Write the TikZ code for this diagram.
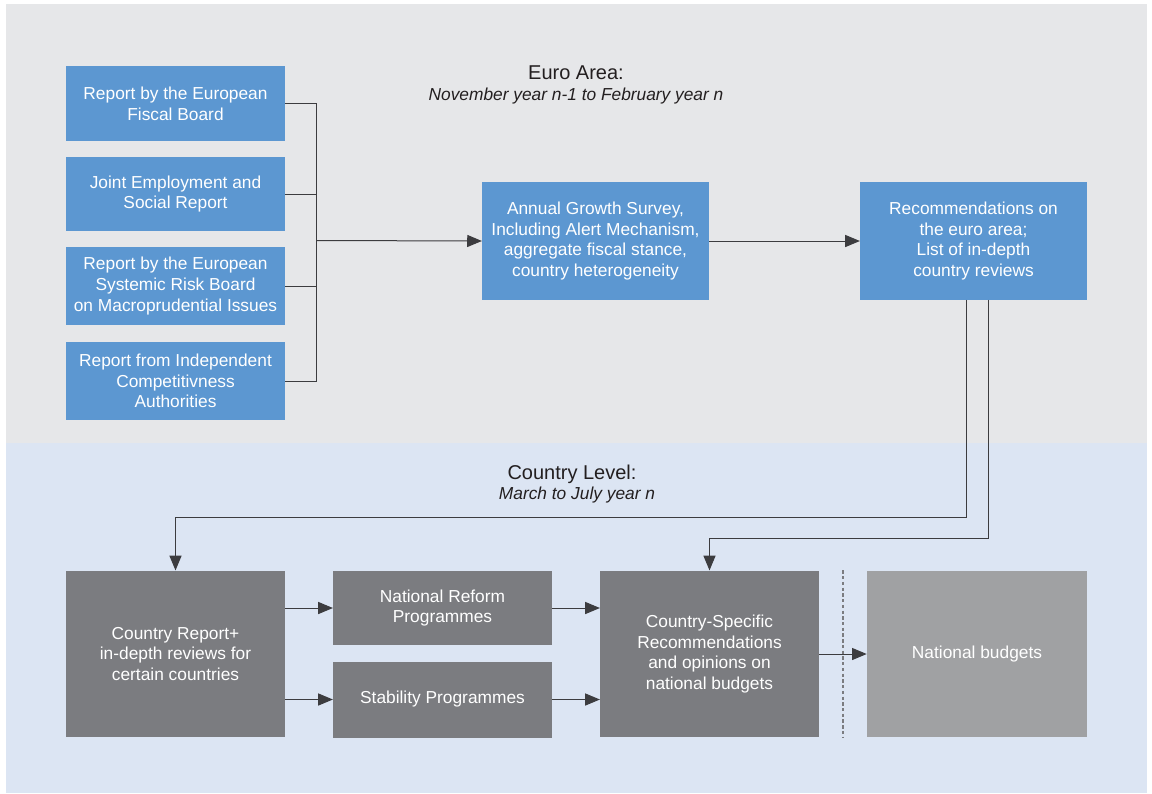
\documentclass[tikz,border=0pt]{standalone}
\usepackage{fontspec}
\setmainfont{Liberation Sans}
\usetikzlibrary{arrows.meta,positioning,calc}
\definecolor{areagray}{RGB}{230,231,233}
\definecolor{areablue}{RGB}{220,229,243}
\definecolor{boxblue}{RGB}{92,151,209}
\definecolor{boxdark}{RGB}{123,124,128}
\definecolor{boxlight}{RGB}{160,161,163}
\definecolor{linegray}{RGB}{60,60,63}
\definecolor{textdark}{RGB}{35,31,32}
\tikzset{>={Triangle[length=11pt,width=9pt]}}

\begin{document}
\begin{tikzpicture}[
    x=0.75pt, y=-0.75pt,
    every node/.style={font=\fontsize{13}{15.5}\selectfont, text=white, align=center, inner sep=0pt},
    euobox/.style={fill=boxblue, minimum width=164pt, minimum height=56pt},
    natbox/.style={fill=boxdark, minimum width=164pt, minimum height=56pt},
    heading/.style={font=\fontsize{15}{18}\selectfont, text=textdark},
    period/.style={font=\fontsize{13}{15}\selectfont\itshape, text=textdark},
    link/.style={draw=linegray, line width=0.75pt}
  ]
    \useasboundingbox (0,0) rectangle (1152,793);
    % the two levels
    \fill[areagray] (6,4) rectangle (1147,443);
    \fill[areablue] (6,443) rectangle (1147,793);

    \node[heading] (eatitle) at (576,73) {Euro Area:};
    \node[period]  (eaperiod) at (576,96.5) {November year n-1 to February year n};
    \node[heading] (cltitle) at (572,474) {Country Level:};
    \node[period]  (clperiod) at (577,495.5) {March to July year n};

    % euro area inputs
    \node[euobox] (efb) at (175.5,103.5) {Report by the European\\Fiscal Board};
    \node[euobox] (jer) at (175.5,194) {Joint Employment and\\Social Report};
    \node[euobox, minimum height=59pt] (esrb) at (175.5,286) {Report by the European\\Systemic Risk Board\\on Macroprudential Issues};
    \node[euobox, minimum height=59pt] (ica) at (175.5,381) {Report from Independent\\Competitivness\\Authorities};
    \node[euobox, minimum width=170pt, minimum height=88pt] (ags) at (595.5,241) {Annual Growth Survey,\\Including Alert Mechanism,\\aggregate fiscal stance,\\country heterogeneity};
    \node[euobox, minimum width=170pt, minimum height=88pt] (rec) at (973.5,241) {Recommendations on\\the euro area;\\List of in-depth\\country reviews};

    % country level
    \node[natbox, minimum height=125pt] (crep) at (175.5,654) {Country Report+\\in-depth reviews for\\certain countries};
    \node[natbox] (nrp) at (442.5,608) {National Reform\\Programmes};
    \node[natbox, minimum height=57pt] (stab) at (442.5,699.5) {Stability Programmes};
    \node[natbox, minimum height=125pt] (csr) at (709.5,654) {Country-Specific\\Recommendations\\and opinions on\\national budgets};
    \node[natbox, fill=boxlight, minimum width=165pt, minimum height=125pt] (nbud) at (977,654) {National budgets};

    % connectors
    \coordinate (bus) at (316,240.5);
    \draw[link] (efb.east) -- (efb.east -| bus) -- (ica.east -| bus) -- (ica.east);
    \draw[link] (jer.east) -- (jer.east -| bus);
    \draw[link] (esrb.east) -- (esrb.east -| bus);
    \draw[link, ->] (bus) -- (ags.west);
    \draw[link, ->] (ags.east) -- (rec.west);
    \draw[link, ->] ([xshift=-5.6pt]rec.south) -- ++(0,218) -| (crep.north);
    \draw[link, ->] ([xshift=10.9pt]rec.south) -- ++(0,239) -| (csr.north);
    \draw[link, ->] (crep.east |- nrp.west) -- (nrp.west);
    \draw[link, ->] (crep.east |- stab.west) -- (stab.west);
    \draw[link, ->] (nrp.east) -- (nrp.east -| csr.west);
    \draw[link, ->] (stab.east) -- (stab.east -| csr.west);
    \draw[link, ->] (csr.east) -- (nbud.west);
    \draw[boxdark, line width=2pt, dash pattern=on 2.5pt off 1.8pt]
      ($(csr.north east)!0.5!(nbud.north west)$) -- ($(csr.south east)!0.5!(nbud.south west)$);
\end{tikzpicture}
\end{document}
